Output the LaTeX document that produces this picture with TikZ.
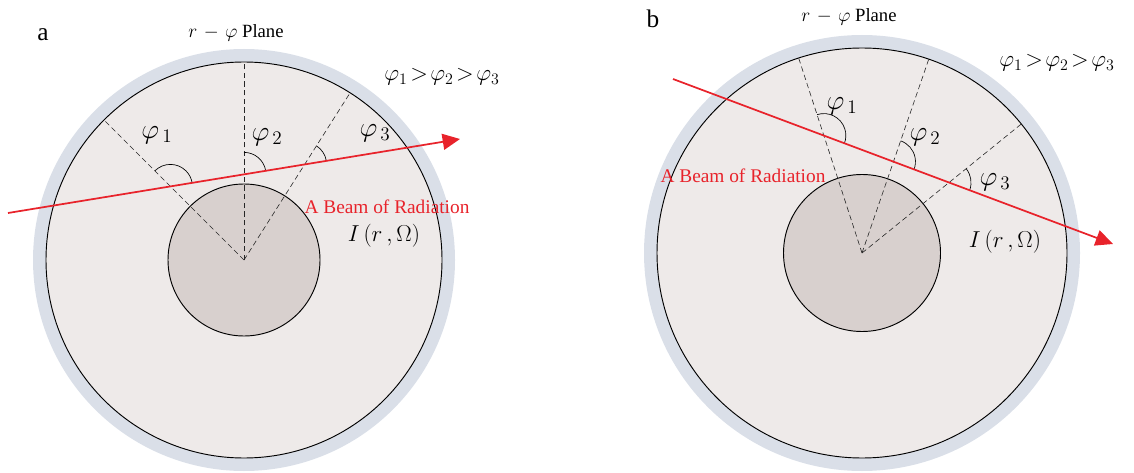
\documentclass[tikz,border=0pt]{standalone}
\usepackage{fontspec}
\setmainfont{Liberation Serif}
\usepackage{tikz}
\usetikzlibrary{arrows.meta, calc}
\definecolor{ringblue}{HTML}{DADFE8}
\definecolor{diskgray}{HTML}{EEEAE9}
\definecolor{coregray}{HTML}{D8D0CE}
\definecolor{beamred}{HTML}{E8232B}
\tikzset{
  shell/.style={fill=ringblue},
  layer/.style={draw=black, line width=0.7pt, fill=diskgray},
  kernel/.style={draw=black, line width=0.7pt, fill=coregray},
  radial/.style={dash pattern=on 4pt off 2.5pt, line width=0.45pt, black!85},
  beam/.style={-{Triangle[length=13pt, width=12pt]}, line width=1.3pt, beamred},
  angarc/.style={line width=0.5pt},
  tag/.style={font=\fontsize{19}{21}\selectfont, inner sep=0pt},
  plane/.style={font=\fontsize{14}{16}\selectfont, inner sep=0pt},
  order/.style={font=\fontsize{18}{20}\selectfont, inner sep=0pt},
  philbl/.style={font=\fontsize{21}{23}\selectfont, inner sep=0pt},
  beamlbl/.style={font=\fontsize{14.5}{16}\selectfont, text=beamred, inner sep=0pt},
  intens/.style={font=\fontsize{19}{21}\selectfont, inner sep=0pt},
}

\begin{document}
\begin{tikzpicture}[x=0.75pt, y=0.75pt]
\useasboundingbox (0,0) rectangle (1134,472);
% ---- panel a ----
\begin{scope}[shift={(244,212)}]
\coordinate (aO) at (0,0);
\fill[shell] (aO) circle[radius=211];
\draw[layer] (aO) circle[radius=198];
\draw[kernel] (aO) circle[radius=76];
\coordinate (aS) at (-236,47);
\coordinate (aE) at (216,121);
\foreach \n/\t in {1/135, 2/90, 3/57.6} {
  \coordinate (aR\n) at (\t:198);
  \draw[radial] (aO) -- (aR\n);
  \coordinate (aX\n) at (intersection cs: first line={(aO)--(aR\n)}, second line={(aS)--(aE)});
  \draw[angarc] (aX\n) ++(\t:22) arc[start angle=\t, end angle=9.3, radius=22];
}
\draw[beam] (aS) -- (aE);
\node[tag]     (atag)   at (-201,225) {a};
\node[plane]   (aplane) at (-8,227)   {$r\mskip2mu-\mskip2mu\varphi$ Plane};
\node[order]   (aorder) at (198,183)  {$\varphi_1\!>\!\varphi_2\!>\!\varphi_3$};
\node[philbl]  (aphi1)  at (-87,125)  {$\varphi_{\,1}$};
\node[philbl]  (aphi2)  at (23,123)   {$\varphi_{\,2}$};
\node[philbl]  (aphi3)  at (131,127)  {$\varphi_{\,3}$};
\node[beamlbl] (ablbl)  at (143,53)   {A Beam of Radiation};
\node[intens]  (aint)   at (140,24)   {$I\,(r\,,\Omega)$};
\end{scope}
% ---- panel b ----
\begin{scope}[shift={(862,219)}]
\coordinate (bO) at (0,0);
\fill[shell] (bO) circle[radius=218];
\draw[layer] (bO) circle[radius=205];
\draw[kernel] (bO) circle[radius=78.5];
\coordinate (bS) at (-189,174);
\coordinate (bE) at (251,9);
\foreach \n/\t in {1/108, 2/71, 3/39} {
  \coordinate (bR\n) at (\t:205);
  \draw[radial] (bO) -- (bR\n);
  \coordinate (bX\n) at (intersection cs: first line={(bO)--(bR\n)}, second line={(bS)--(bE)});
  \draw[angarc] (bX\n) ++(\t:22) arc[start angle=\t, end angle=-20.6, radius=22];
}
\draw[beam] (bS) -- (bE);
\node[tag]     (btag)   at (-209,234) {b};
\node[plane]   (bplane) at (-13,236)  {$r\mskip2mu-\mskip2mu\varphi$ Plane};
\node[order]   (border) at (195,190)  {$\varphi_1\!>\!\varphi_2\!>\!\varphi_3$};
\node[philbl]  (bphi1)  at (-20,147)  {$\varphi_{\,1}$};
\node[philbl]  (bphi2)  at (63,116)   {$\varphi_{\,2}$};
\node[philbl]  (bphi3)  at (133,71)   {$\varphi_{\,3}$};
\node[beamlbl] (bblbl)  at (-119,77)  {A Beam of Radiation};
\node[intens]  (bint)   at (143,11)   {$I\,(r\,,\Omega)$};
\end{scope}
\end{tikzpicture}
\end{document}
